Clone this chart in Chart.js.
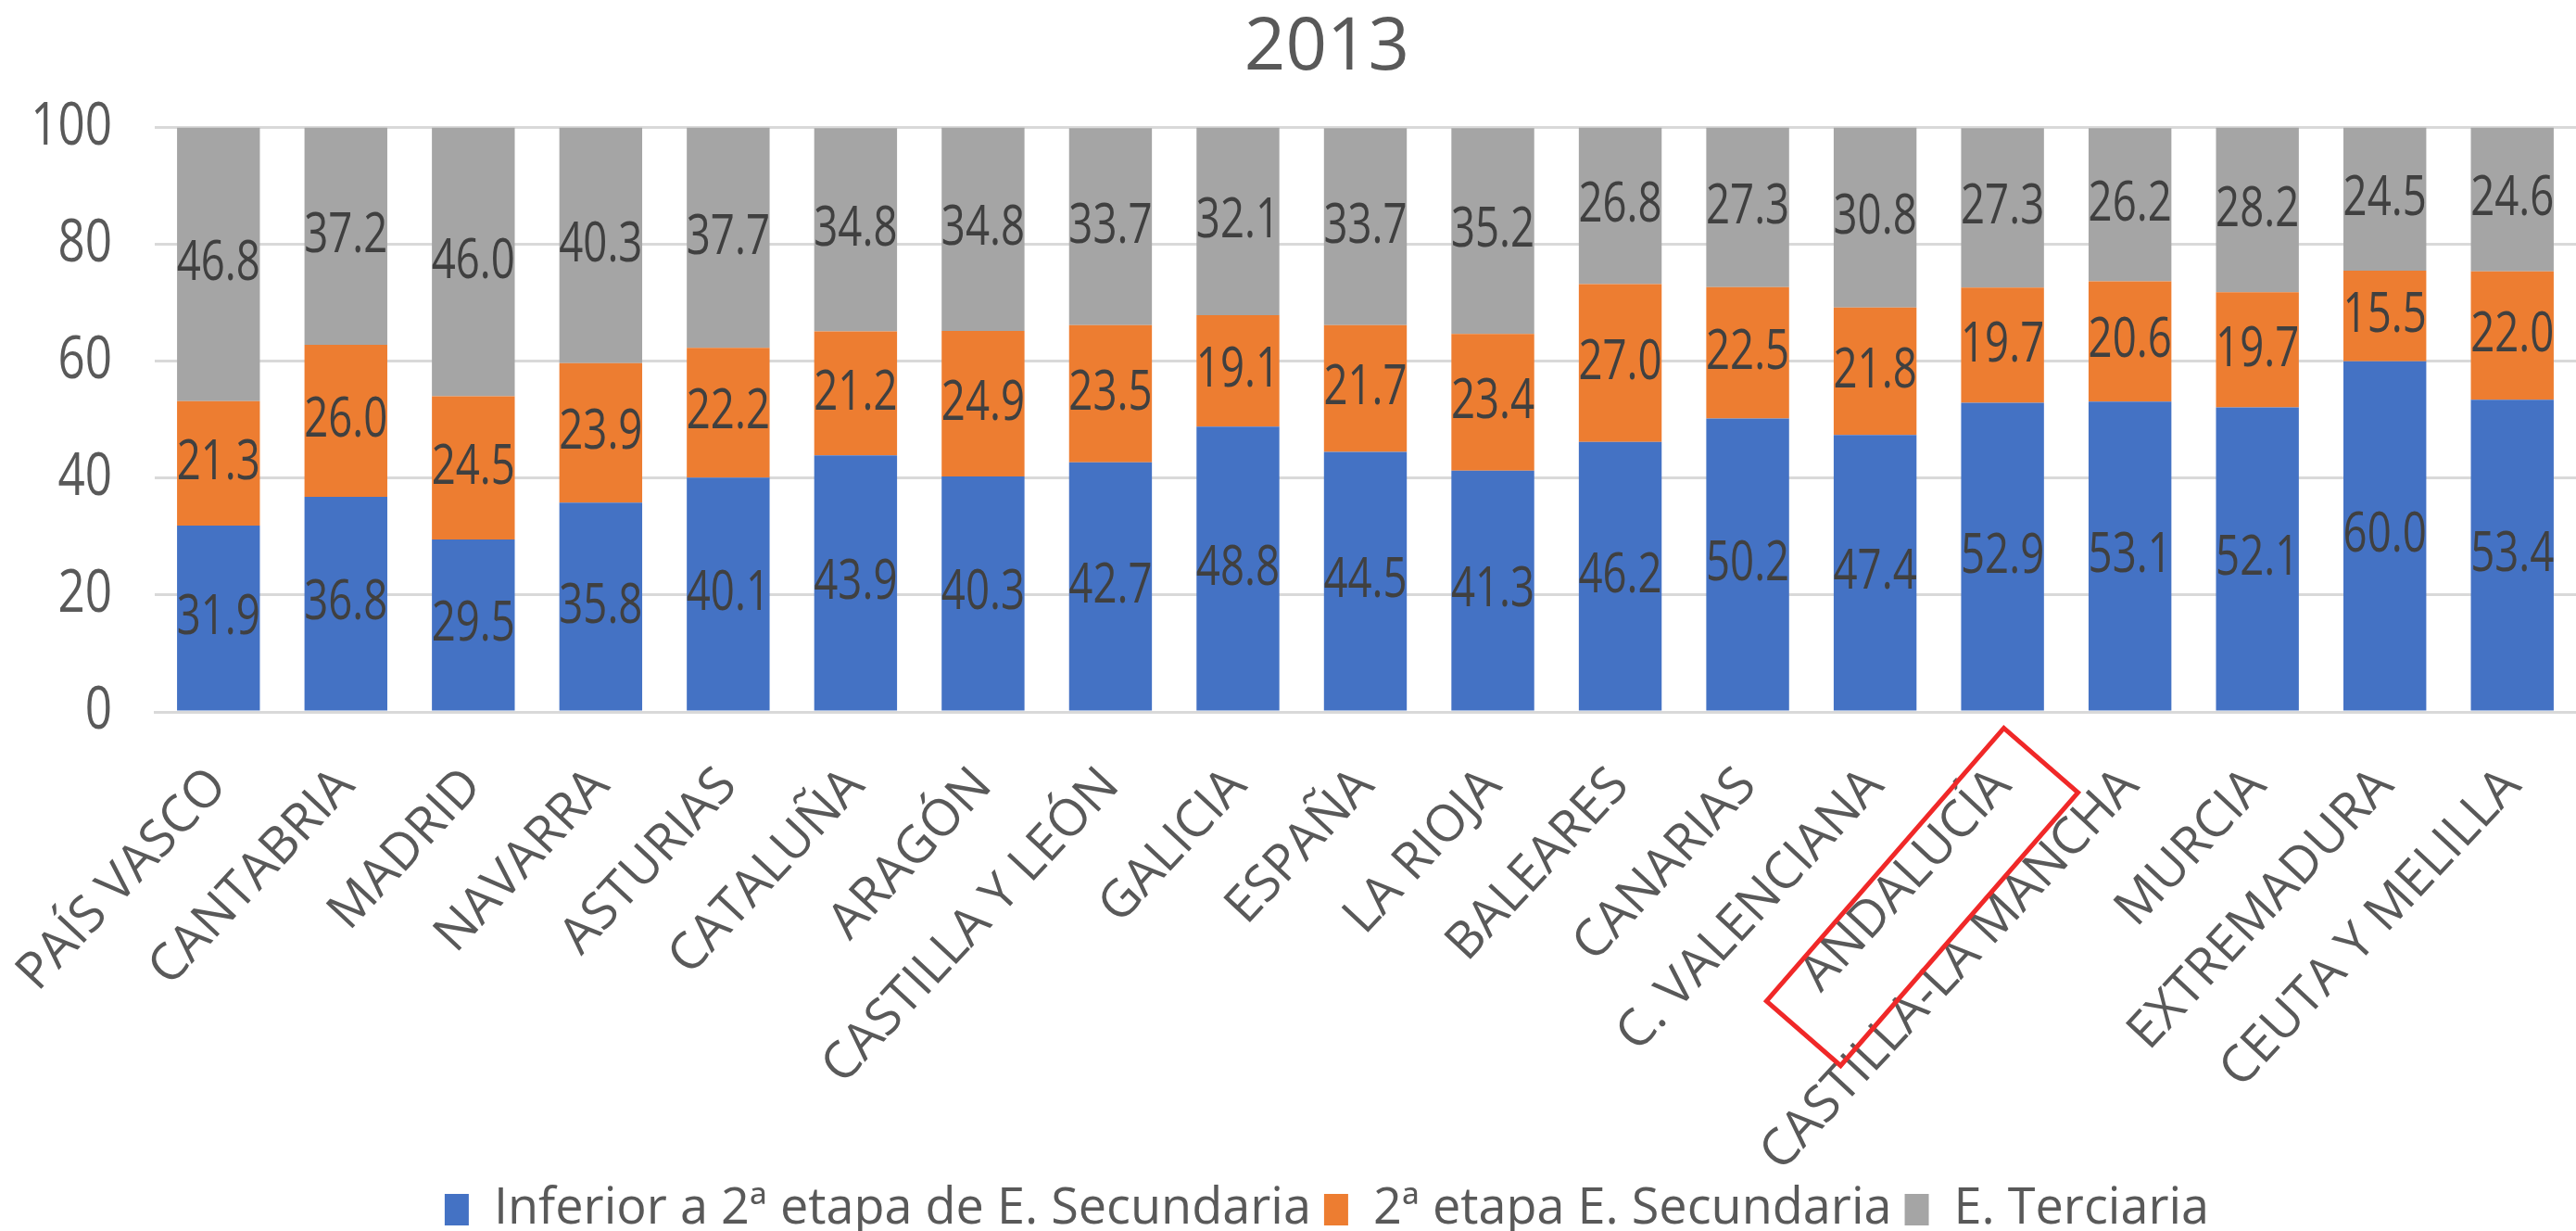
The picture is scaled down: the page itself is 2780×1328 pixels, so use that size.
<!DOCTYPE html>
<html>
<head>
<meta charset="utf-8">
<script src="https://cdn.jsdelivr.net/npm/chart.js@4/dist/chart.umd.min.js"></script>
<style>
  html, body { margin: 0; padding: 0; background: #fff; }
  canvas { display: block; }
</style>
</head>
<body>
<canvas id="chart" width="2780" height="1328"></canvas>
<script>
const regiones = ['PAÍS VASCO', 'CANTABRIA', 'MADRID', 'NAVARRA', 'ASTURIAS', 'CATALUÑA', 'ARAGÓN',
    'CASTILLA Y LEÓN', 'GALICIA', 'ESPAÑA', 'LA RIOJA', 'BALEARES', 'CANARIAS', 'C. VALENCIANA',
    'ANDALUCÍA', 'CASTILLA-LA MANCHA', 'MURCIA', 'EXTREMADURA', 'CEUTA Y MELILLA'];
const inferior = [31.9, 36.8, 29.5, 35.8, 40.1, 43.9, 40.3, 42.7, 48.8, 44.5, 41.3, 46.2, 50.2, 47.4, 52.9, 53.1, 52.1, 60.0, 53.4];
const segunda = [21.3, 26.0, 24.5, 23.9, 22.2, 21.2, 24.9, 23.5, 19.1, 21.7, 23.4, 27.0, 22.5, 21.8, 19.7, 20.6, 19.7, 15.5, 22.0];
const terciaria = [46.8, 37.2, 46.0, 40.3, 37.7, 34.8, 34.8, 33.7, 32.1, 33.7, 35.2, 26.8, 27.3, 30.8, 27.3, 26.2, 28.2, 24.5, 24.6];
const yTicks = [0, 20, 40, 60, 80, 100];
const destacada = 'ANDALUCÍA';

const fam = "'Open Sans', sans-serif";
const catFont = { family: fam, size: 55 };
const catPadding = 48;
const catRotation = 47;

// draw text squeezed horizontally (the original looks condensed)
function squeezed(ctx, text, x, y, sx) {
    ctx.save();
    ctx.translate(x, y);
    ctx.scale(sx, 1);
    ctx.fillText(text, 0, 0);
    ctx.restore();
}

// value labels in the middle of each segment
const valueLabels = {
    id: 'valueLabels',
    afterDatasetsDraw(chart) {
        const ctx = chart.ctx;
        ctx.save();
        ctx.font = '60px ' + fam;
        ctx.fillStyle = '#404040';
        ctx.textAlign = 'center';
        ctx.textBaseline = 'middle';
        chart.data.datasets.forEach((ds, i) => {
            chart.getDatasetMeta(i).data.forEach((bar, j) => {
                squeezed(ctx, ds.data[j].toFixed(1), bar.x, (bar.y + bar.base) / 2, 0.76);
            });
        });
        ctx.restore();
    }
};

// y tick labels, drawn here so they are not clipped and can be squeezed
const yLabels = {
    id: 'yLabels',
    afterDraw(chart) {
        const sy = chart.scales.y;
        const ctx = chart.ctx;
        ctx.save();
        ctx.font = '64px ' + fam;
        ctx.fillStyle = '#595959';
        ctx.textAlign = 'right';
        ctx.textBaseline = 'middle';
        sy.ticks.forEach(t => {
            squeezed(ctx, String(t.value), chart.chartArea.left - 46, sy.getPixelForValue(t.value), 0.8);
        });
        ctx.restore();
    }
};

// red frame round the highlighted region label
const frame = {
    id: 'frame',
    afterDraw(chart) {
        const sx = chart.scales.x;
        const x = sx.getPixelForValue(regiones.indexOf(destacada));
        const y = sx.top + catPadding;
        const ctx = chart.ctx;
        ctx.save();
        ctx.font = catFont.size + 'px ' + fam;
        const w = ctx.measureText(destacada).width;
        const mid = catFont.size * 1.2 / 2;
        ctx.translate(x, y);
        ctx.rotate(-(catRotation + 2) * Math.PI / 180);
        ctx.strokeStyle = '#F02828';
        ctx.lineWidth = 5;
        ctx.strokeRect(-w - 62, mid - 52, w + 86, 106);
        ctx.restore();
    }
};

new Chart(document.getElementById('chart'), {
    type: 'bar',
    data: {
        labels: regiones,
        datasets: [
            { label: 'Inferior a 2ª etapa de E. Secundaria', data: inferior, backgroundColor: '#4472C4' },
            { label: '2ª etapa E. Secundaria', data: segunda, backgroundColor: '#ED7D31' },
            { label: 'E. Terciaria', data: terciaria, backgroundColor: '#A5A5A5' }
        ]
    },
    options: {
        responsive: false,
        animation: false,
        devicePixelRatio: 1,
        layout: { padding: { left: 84, right: 0, top: 0, bottom: -14 } },
        datasets: { bar: { categoryPercentage: 1, barPercentage: 0.65 } },
        plugins: {
            title: {
                display: true,
                text: '2013',
                color: '#595959',
                font: { family: fam, size: 78, weight: 'normal' },
                padding: { top: 6, bottom: 38 }
            },
            legend: {
                position: 'bottom',
                labels: {
                    color: '#595959',
                    font: { family: fam, size: 54 },
                    boxWidth: 26,
                    boxHeight: 34,
                    padding: 14
                }
            },
            tooltip: { enabled: false }
        },
        scales: {
            x: {
                stacked: true,
                afterFit: scale => {
                    scale.height = 496;
                    scale.paddingLeft = 0;
                    scale.paddingRight = 0;
                },
                grid: { display: false, drawTicks: false },
                border: { color: '#D9D9D9', width: 3 },
                ticks: {
                    autoSkip: false,
                    minRotation: catRotation,
                    maxRotation: catRotation,
                    padding: catPadding,
                    color: '#595959',
                    font: catFont
                }
            },
            y: {
                stacked: true,
                min: 0,
                max: 100,
                afterFit: scale => { scale.width = 83; },
                afterBuildTicks: scale => { scale.ticks = yTicks.map(v => ({ value: v })); },
                grid: { color: '#D9D9D9', lineWidth: 3, drawTicks: false },
                border: { display: false },
                ticks: { display: false }
            }
        }
    },
    plugins: [valueLabels, yLabels, frame]
});
</script>
</body>
</html>
